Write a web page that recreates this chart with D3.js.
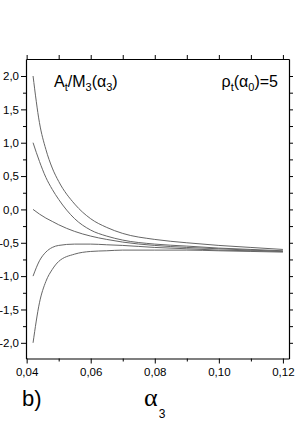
<!DOCTYPE html>
<html><head><meta charset="utf-8">
<script src="https://cdn.jsdelivr.net/npm/d3@7"></script>
<style>
html,body{margin:0;padding:0;background:#fff;}
svg{display:block;font-family:Arial,"Liberation Sans",sans-serif;}
</style></head>
<body>
<script>
const alpha3 = [0.042,0.044,0.046,0.048,0.050,0.055,0.060,0.065,0.070,0.080,0.090,0.100,0.110,0.120];
const curveStart2  = [2.00,1.30,0.90,0.62,0.42,0.08,-0.14,-0.27,-0.36,-0.45,-0.50,-0.54,-0.57,-0.60];
const curveStart1  = [1.00,0.72,0.48,0.30,0.15,-0.14,-0.31,-0.40,-0.46,-0.52,-0.55,-0.58,-0.60,-0.62];
const curveStart0  = [0.00,-0.07,-0.13,-0.18,-0.23,-0.33,-0.40,-0.45,-0.49,-0.54,-0.57,-0.59,-0.61,-0.63];
const curveStartM1 = [-1.00,-0.77,-0.64,-0.57,-0.54,-0.52,-0.52,-0.53,-0.54,-0.57,-0.59,-0.61,-0.62,-0.63];
const curveStartM2 = [-2.00,-1.40,-1.08,-0.90,-0.78,-0.67,-0.63,-0.62,-0.61,-0.61,-0.61,-0.62,-0.63,-0.64];
const seriesList = [curveStart2, curveStart1, curveStart0, curveStartM1, curveStartM2];
const xTicks = [0.04,0.06,0.08,0.10,0.12];
const xTickLabels = ["0,04","0,06","0,08","0,10","0,12"];
const xMinor = [0.05,0.07,0.09,0.11];
const yTicks = [2.0,1.5,1.0,0.5,0.0,-0.5,-1.0,-1.5,-2.0];
const yTickLabels = ["2,0","1,5","1,0","0,5","0,0","-0,5","-1,0","-1,5","-2,0"];
const yMinor = [1.75,1.25,0.75,0.25,-0.25,-0.75,-1.25,-1.75];

const W=300,H=431;
const L=26,R=289,T=59,B=358.5;
const svg=d3.select("body").append("svg").attr("width",W).attr("height",H);
const x=d3.scaleLinear().domain([0.0398,0.1219]).range([L,R]);
const y=d3.scaleLinear().domain([-2.235,2.255]).range([B,T]);

// curves
const line=d3.line().x((d,i)=>x(alpha3[i])).y(d=>y(d)).curve(d3.curveMonotoneX);
svg.append("g").selectAll("path").data(seriesList).join("path")
  .attr("d",line).attr("fill","none").attr("stroke","#666").attr("stroke-width",1);

// axes
const tickFmtX=(d)=>{const i=xTicks.findIndex(v=>Math.abs(v-d)<1e-9);return i>=0?xTickLabels[i]:"";};
const tickFmtY=(d)=>{const i=yTicks.findIndex(v=>Math.abs(v-d)<1e-9);return i>=0?yTickLabels[i]:"";};
function style(g){g.selectAll(".domain").attr("stroke","#000").attr("stroke-width",1.2);
  g.selectAll(".tick line").attr("stroke","#000").attr("stroke-width",1);
  g.selectAll("text").attr("fill","#000").style("font-size","11.5px").style("font-family","Arial,'Liberation Sans',sans-serif");}

const gb=svg.append("g").attr("transform",`translate(0,${B})`)
  .call(d3.axisBottom(x).tickValues(xTicks).tickFormat(tickFmtX).tickSize(5).tickSizeOuter(0).tickPadding(4));
style(gb);
svg.append("g").attr("transform",`translate(0,${B})`)
  .call(d3.axisBottom(x).tickValues(xMinor).tickFormat("").tickSize(3).tickSizeOuter(0))
  .call(g=>{g.select(".domain").remove();g.selectAll("line").attr("stroke","#000");});
const gt=svg.append("g").attr("transform",`translate(0,${T})`)
  .call(d3.axisTop(x).tickValues(xTicks.concat(xMinor)).tickFormat("").tickSize(4).tickSizeOuter(0));
style(gt);
const gl=svg.append("g").attr("transform",`translate(${L},0)`)
  .call(d3.axisLeft(y).tickValues(yTicks).tickFormat(tickFmtY).tickSize(5).tickSizeOuter(0).tickPadding(2));
style(gl);
svg.append("g").attr("transform",`translate(${L},0)`)
  .call(d3.axisLeft(y).tickValues(yMinor).tickFormat("").tickSize(3).tickSizeOuter(0))
  .call(g=>{g.select(".domain").remove();g.selectAll("line").attr("stroke","#000");});
const gr=svg.append("g").attr("transform",`translate(${R},0)`)
  .call(d3.axisRight(y).tickValues(yTicks.concat(yMinor)).tickFormat("").tickSize(4).tickSizeOuter(0));
style(gr);

// labels
const f="Arial,'Liberation Sans',sans-serif";
const t1=svg.append("text").attr("x",54).attr("y",87).style("font-family",f).style("font-size","16px").attr("fill","#000");
t1.append("tspan").text("A");
t1.append("tspan").attr("dy",4).style("font-size","11px").text("t");
t1.append("tspan").attr("dy",-4).text("/M");
t1.append("tspan").attr("dy",4).style("font-size","11px").text("3");
t1.append("tspan").attr("dy",-4).text("(α");
t1.append("tspan").attr("dy",4).style("font-size","11px").text("3");
t1.append("tspan").attr("dy",-4).text(")");

const t2=svg.append("text").attr("x",278).attr("y",87).attr("text-anchor","end").style("font-family",f).style("font-size","16px").attr("fill","#000");
t2.append("tspan").text("ρ");
t2.append("tspan").attr("dy",4).style("font-size","11px").text("t");
t2.append("tspan").attr("dy",-4).text("(α");
t2.append("tspan").attr("dy",4).style("font-size","11px").text("0");
t2.append("tspan").attr("dy",-4).text(")=5");

svg.append("text").attr("x",22).attr("y",406).style("font-family",f).style("font-size","22px").attr("fill","#000").text("b)");

const t3=svg.append("text").attr("x",144).attr("y",406).attr("fill","#000");
t3.append("tspan").style("font-family","'Liberation Serif','Times New Roman',serif").style("font-size","26px").text("α");
t3.append("tspan").attr("dy",12).attr("dx",1).style("font-family",f).style("font-size","12px").text("3");
</script>
</body></html>
